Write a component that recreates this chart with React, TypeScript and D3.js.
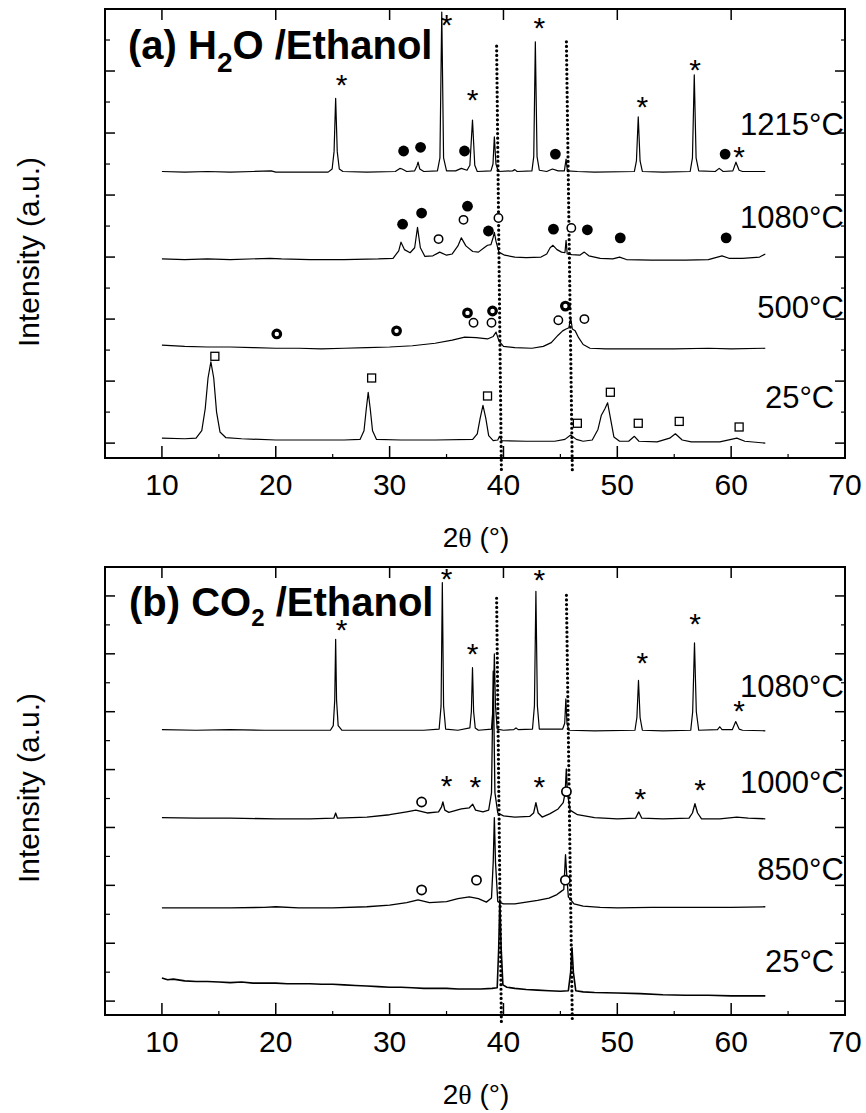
import React from 'react';
import * as d3 from 'd3';

type Pt = [number, number];

// 2θ ticks
const xMajor = [10, 20, 30, 40, 50, 60, 70];
const xMinor = [15, 25, 35, 45, 55, 65];
const yMajor = [0, 1, 2, 3, 4, 5, 6, 7];
const yMinor = [0.5, 1.5, 2.5, 3.5, 4.5, 5.5, 6.5];

// ---- (a) H2O / Ethanol ----
const a1215: Pt[] = [[10,4.38],[12,4.37],[14,4.38],[16,4.37],[18,4.38],[19.6,4.39],[20,4.37],[22,4.37],[24.6,4.37],[24.95,4.42],[25.12,4.7],[25.26,5.56],[25.4,4.7],[25.58,4.42],[25.9,4.38],[28,4.37],[30.5,4.38],[30.9,4.43],[31.1,4.42],[31.5,4.38],[32.2,4.39],[32.4,4.47],[32.5,4.53],[32.65,4.42],[33,4.38],[34.2,4.39],[34.42,4.6],[34.58,6.95],[34.74,4.6],[35.0,4.39],[35.8,4.39],[36.3,4.43],[36.8,4.4],[37.05,4.48],[37.28,5.21],[37.48,4.48],[37.7,4.38],[38.9,4.39],[39.08,4.5],[39.2,4.94],[39.34,4.5],[39.55,4.38],[40.8,4.39],[41.0,4.41],[41.2,4.38],[42.5,4.39],[42.66,4.62],[42.8,6.47],[42.95,4.62],[43.15,4.4],[43.8,4.38],[44.3,4.42],[44.8,4.39],[45.35,4.39],[45.5,4.58],[45.62,4.39],[46.5,4.38],[48,4.37],[51.5,4.38],[51.68,4.55],[51.84,5.26],[52.0,4.55],[52.2,4.38],[54,4.37],[56.4,4.38],[56.6,4.6],[56.76,5.94],[56.92,4.6],[57.15,4.39],[58.6,4.38],[58.95,4.43],[59.3,4.38],[60.15,4.39],[60.42,4.53],[60.7,4.4],[61,4.38],[63,4.38]];
const a1080: Pt[] = [[10,2.97],[12,2.96],[14,2.97],[16,2.96],[19.5,2.98],[20.5,2.97],[23,2.96],[26,2.96],[29,2.97],[30.3,2.98],[30.8,3.1],[31.0,3.24],[31.3,3.12],[31.8,3.07],[32.2,3.15],[32.45,3.48],[32.7,3.15],[33.1,3.01],[33.8,3.02],[34.4,3.08],[35.0,3.03],[35.5,3.05],[36.0,3.18],[36.3,3.31],[36.7,3.18],[37.3,3.09],[37.8,3.08],[38.3,3.15],[38.6,3.19],[38.9,3.2],[39.1,3.32],[39.2,3.4],[39.35,3.25],[39.6,3.08],[40.1,3.03],[41,3.0],[42,2.99],[43.3,3.0],[43.8,3.05],[44.1,3.15],[44.35,3.19],[44.7,3.12],[45.1,3.08],[45.4,3.07],[45.5,3.27],[45.6,3.05],[46,3.04],[46.7,3.03],[47.1,3.08],[47.5,3.02],[48.5,2.98],[49.6,2.97],[50.2,3.0],[50.8,2.96],[53,2.95],[56,2.95],[58,2.96],[59.2,3.02],[59.8,2.98],[61,2.98],[62.5,3.0],[63,3.05]];
const a500: Pt[] = [[10,1.58],[12,1.56],[14,1.55],[16,1.55],[18,1.54],[20,1.53],[22,1.53],[24,1.52],[26,1.53],[28,1.54],[30,1.55],[32,1.57],[34,1.61],[35.5,1.66],[36.6,1.71],[37.6,1.7],[38.6,1.68],[39.1,1.72],[39.35,1.79],[39.6,1.65],[40.0,1.56],[41,1.54],[42.5,1.53],[43.5,1.56],[44.2,1.62],[44.8,1.74],[45.2,1.81],[45.5,1.84],[45.75,1.86],[45.9,2.03],[46.05,1.84],[46.3,1.81],[46.6,1.7],[47.0,1.59],[47.6,1.53],[49,1.52],[52,1.52],[55,1.52],[58,1.53],[60,1.52],[63,1.53]];
const a25: Pt[] = [[10,0.08],[12,0.07],[13.0,0.08],[13.5,0.2],[13.8,0.55],[14.05,1.05],[14.3,1.31],[14.55,1.05],[14.8,0.5],[15.1,0.18],[15.6,0.09],[17,0.07],[20,0.05],[23,0.05],[26,0.05],[27.4,0.06],[27.75,0.2],[27.95,0.55],[28.12,0.82],[28.3,0.55],[28.5,0.2],[28.85,0.06],[31,0.05],[34,0.05],[37.3,0.06],[37.7,0.15],[37.95,0.4],[38.2,0.61],[38.45,0.4],[38.7,0.12],[39.1,0.04],[39.5,0.05],[39.65,0.11],[39.85,0.04],[42,0.03],[44.5,0.03],[45.4,0.06],[45.9,0.13],[46.4,0.06],[47,0.03],[47.8,0.05],[48.3,0.22],[48.6,0.45],[48.9,0.55],[49.15,0.65],[49.4,0.4],[49.7,0.1],[50.2,0.03],[51.0,0.03],[51.5,0.11],[51.9,0.03],[53.5,0.02],[54.6,0.08],[55.1,0.15],[55.7,0.05],[56.5,0.02],[59,0.02],[60,0.06],[60.5,0.08],[61.2,0.03],[63,0.0]];

const starsA: Pt[] = [[25.79,5.89],[35.0,6.85],[37.28,5.65],[43.16,6.81],[52.19,5.53],[56.84,6.13],[60.7,4.73]];
const filledA: Pt[] = [[31.23,4.71],[32.72,4.77],[36.58,4.71],[44.56,4.66],[59.47,4.66],[31.14,3.53],[32.81,3.71],[36.84,3.82],[38.68,3.42],[44.39,3.45],[47.37,3.44],[50.26,3.31],[59.56,3.31]];
const openA: Pt[] = [[34.3,3.29],[36.49,3.6],[39.56,3.63],[45.96,3.47],[37.37,1.94],[38.95,1.94],[44.82,1.98],[47.11,2.0]];
const ringA: Pt[] = [[20.09,1.76],[30.61,1.81],[36.84,2.1],[39.04,2.13],[45.44,2.21]];
const squareA: Pt[] = [[14.65,1.4],[28.42,1.05],[38.6,0.76],[46.49,0.32],[49.39,0.82],[51.84,0.32],[55.44,0.35],[60.7,0.26]];

// ---- (b) CO2 / Ethanol ----
const b1080: Pt[] = [[10,4.69],[13,4.68],[16,4.69],[19,4.68],[22,4.68],[24.8,4.68],[25.05,4.76],[25.18,5.2],[25.26,6.25],[25.34,5.2],[25.48,4.76],[25.8,4.68],[30,4.68],[33,4.68],[34.35,4.7],[34.52,5.1],[34.63,7.23],[34.74,5.1],[34.92,4.7],[36,4.68],[37.05,4.72],[37.18,5.0],[37.28,5.76],[37.38,5.0],[37.52,4.72],[37.8,4.68],[38.95,4.7],[39.1,5.1],[39.2,6.0],[39.3,5.1],[39.45,4.7],[40,4.68],[40.9,4.69],[41.1,4.72],[41.3,4.69],[42.55,4.7],[42.72,5.1],[42.85,7.08],[42.98,5.1],[43.15,4.7],[45.2,4.7],[45.38,4.8],[45.48,5.22],[45.58,4.8],[45.75,4.68],[48,4.67],[51.55,4.68],[51.72,4.9],[51.86,5.54],[52.0,4.9],[52.2,4.68],[54,4.67],[56.45,4.68],[56.62,5.0],[56.78,6.19],[56.94,5.0],[57.15,4.68],[58.8,4.69],[59.0,4.74],[59.2,4.69],[60.1,4.69],[60.4,4.83],[60.7,4.7],[61,4.68],[63,4.67]];
const b1000: Pt[] = [[10,3.17],[13,3.16],[16,3.16],[20,3.15],[23,3.15],[25.1,3.16],[25.26,3.25],[25.42,3.16],[28,3.18],[30,3.22],[31.5,3.27],[32.3,3.3],[33.3,3.25],[34.3,3.27],[34.55,3.35],[34.68,3.44],[34.85,3.3],[35.2,3.26],[36.3,3.32],[37.0,3.34],[37.3,3.4],[37.55,3.3],[38.2,3.27],[38.7,3.3],[38.95,3.6],[39.1,5.7],[39.25,3.6],[39.5,3.25],[40,3.2],[41,3.18],[42.3,3.19],[42.65,3.25],[42.85,3.43],[43.05,3.25],[43.4,3.18],[44.1,3.24],[44.8,3.32],[45.25,3.43],[45.42,3.6],[45.52,4.01],[45.62,3.6],[45.85,3.3],[46.5,3.22],[48,3.17],[50,3.15],[51.6,3.16],[51.88,3.27],[52.15,3.16],[54,3.15],[56.3,3.16],[56.6,3.25],[56.82,3.41],[57.05,3.25],[57.4,3.15],[59,3.15],[60.5,3.18],[61.5,3.16],[63,3.15]];
const b850: Pt[] = [[10,1.61],[13,1.61],[16,1.61],[19,1.62],[20,1.63],[22,1.61],[25,1.61],[28,1.63],[30,1.66],[31.5,1.7],[32.5,1.75],[33.5,1.7],[35,1.72],[36,1.77],[37,1.8],[37.8,1.77],[38.5,1.71],[38.95,1.78],[39.1,2.4],[39.2,3.17],[39.3,2.4],[39.5,1.72],[40,1.68],[41,1.68],[42,1.71],[43,1.74],[44,1.78],[44.7,1.84],[45.1,1.9],[45.3,1.93],[45.45,2.53],[45.55,2.2],[45.7,1.8],[46.2,1.68],[47,1.64],[48.5,1.62],[50,1.61],[53,1.62],[56,1.62],[60,1.62],[63,1.63]];
const b25: Pt[] = [[10,0.4],[10.5,0.37],[11,0.38],[12,0.35],[13,0.34],[14,0.34],[15,0.33],[16,0.32],[17,0.33],[18,0.31],[19,0.31],[20,0.31],[21,0.3],[22,0.3],[23,0.3],[24,0.29],[25,0.29],[26,0.28],[27,0.27],[28,0.26],[29,0.25],[30,0.24],[31,0.24],[32,0.23],[33,0.22],[34,0.22],[35,0.22],[36,0.21],[37,0.21],[38,0.21],[39,0.22],[39.45,0.23],[39.58,0.9],[39.68,1.75],[39.8,0.9],[39.95,0.28],[40.3,0.24],[41,0.22],[42,0.2],[43,0.19],[44,0.18],[45,0.17],[45.7,0.18],[45.9,0.5],[46.02,0.92],[46.14,0.5],[46.35,0.18],[47,0.16],[48,0.15],[50,0.14],[52,0.13],[54,0.11],[56,0.1],[58,0.1],[60,0.09],[63,0.09]];

const starsB: Pt[] = [[25.79,6.54],[35.0,7.42],[37.28,6.12],[43.16,7.39],[52.19,5.97],[56.84,6.64],[60.7,5.14],[35.0,3.84],[37.54,3.82],[43.16,3.82],[52.02,3.62],[57.28,3.77]];
const openB: Pt[] = [[32.81,3.44],[45.53,3.62],[32.81,1.92],[37.63,2.09],[45.44,2.09]];

// temperature labels [text, 2θ of right end, intensity of baseline]
const labelsA: [string, number, number][] = [['1215°C', 69.9, 4.97], ['1080°C', 69.9, 3.47], ['500°C', 69.9, 2.02], ['25°C', 69.05, 0.56]];
const labelsB: [string, number, number][] = [['1080°C', 69.9, 5.26], ['1000°C', 69.9, 3.6], ['850°C', 69.9, 2.09], ['25°C', 69.05, 0.5]];

// dotted reference lines: [2θ top, 2θ bottom, intensity top, intensity bottom]
const guidesA: [number, number, number, number][] = [[39.4, 39.82, 6.4, -0.47], [45.53, 46.05, 6.47, -0.45]];
const guidesB: [number, number, number, number][] = [[39.4, 39.82, 6.96, -0.42], [45.53, 46.05, 7.01, -0.38]];

const SANS = '"Liberation Sans", Arial, sans-serif';
const L = 105, R = 845;
const x = d3.scaleLinear().domain([5, 70]).range([L, R]);

interface PanelProps {
  top: number;
  bottom: number;
  yMax: number;
  traces: Pt[][];
  thick?: number[];
  stars: Pt[];
  filled?: Pt[];
  open: Pt[];
  rings?: Pt[];
  squares?: Pt[];
  labels: [string, number, number][];
  guides: [number, number, number, number][];
  title: React.ReactNode;
  yLabelCenter: number;
  openR?: number;
  openW?: number;
}

const Panel: React.FC<PanelProps> = (p) => {
  const y = d3.scaleLinear().domain([-0.24, p.yMax]).range([p.bottom, p.top]);
  const line = d3.line<Pt>().x(d => x(d[0])).y(d => y(d[1]));
  return (
    <g>
      {p.traces.map((t, i) => (
        <path key={i} d={line(t) || ''} fill="none" stroke="#000" strokeWidth={p.thick && p.thick[i] ? p.thick[i] : 1.2} strokeLinejoin="round" />
      ))}
      {p.guides.map((g, i) => (
        <line key={i} x1={x(g[0])} y1={y(g[2])} x2={x(g[1])} y2={y(g[3])} stroke="#000" strokeWidth={3.2} strokeDasharray="0 4.6" strokeLinecap="round" />
      ))}
      {(p.filled || []).map((d, i) => <circle key={i} cx={x(d[0])} cy={y(d[1])} r={5.4} fill="#000" />)}
      {p.open.map((d, i) => <circle key={i} cx={x(d[0])} cy={y(d[1])} r={p.openR || 4.2} fill="#fff" stroke="#000" strokeWidth={p.openW || 1.5} />)}
      {(p.rings || []).map((d, i) => <circle key={i} cx={x(d[0])} cy={y(d[1])} r={3.8} fill="#fff" stroke="#000" strokeWidth={3.2} />)}
      {(p.squares || []).map((d, i) => <rect key={i} x={x(d[0]) - 4} y={y(d[1]) - 4} width={8} height={8} fill="#fff" stroke="#000" strokeWidth={1.3} />)}
      {p.stars.map((d, i) => (
        <text key={i} x={x(d[0])} y={y(d[1]) + 17} textAnchor="middle" fontFamily={SANS} fontSize={30}>*</text>
      ))}
      {p.labels.map((l, i) => (
        <text key={i} x={x(l[1])} y={y(l[2])} textAnchor="end" fontFamily={SANS} fontSize={31}>{l[0]}</text>
      ))}
      {/* frame */}
      <rect x={L} y={p.top} width={R - L} height={p.bottom - p.top} fill="none" stroke="#000" strokeWidth={2} />
      {xMajor.map(t => (
        <g key={'xm' + t}>
          <line x1={x(t)} x2={x(t)} y1={p.bottom} y2={p.bottom - 12} stroke="#000" strokeWidth={1.5} />
          <line x1={x(t)} x2={x(t)} y1={p.top} y2={p.top + 11} stroke="#000" strokeWidth={1.5} />
          <text x={x(t)} y={p.bottom + 37} textAnchor="middle" fontFamily={SANS} fontSize={30}>{t}</text>
        </g>
      ))}
      {xMinor.map(t => (
        <line key={'xn' + t} x1={x(t)} x2={x(t)} y1={p.bottom} y2={p.bottom - 4} stroke="#000" strokeWidth={1.2} />
      ))}
      {yMajor.map(t => (
        <g key={'ym' + t}>
          <line x1={L} x2={L + 10} y1={y(t)} y2={y(t)} stroke="#000" strokeWidth={1.5} />
          <line x1={R} x2={R - 10} y1={y(t)} y2={y(t)} stroke="#000" strokeWidth={1.5} />
        </g>
      ))}
      {yMinor.map(t => (
        <g key={'yn' + t}>
          <line x1={L} x2={L + 5} y1={y(t)} y2={y(t)} stroke="#000" strokeWidth={1.2} />
          <line x1={R} x2={R - 4} y1={y(t)} y2={y(t)} stroke="#000" strokeWidth={1.2} />
        </g>
      ))}
      {p.title}
      <text transform={`translate(39,${p.yLabelCenter}) rotate(-90)`} textAnchor="middle" fontFamily={SANS} fontSize={30}>Intensity (a.u.)</text>
      <text x={476} y={p.bottom + 89} textAnchor="middle" fontFamily={SANS} fontSize={28}>
        2<tspan fontFamily='"Liberation Serif", serif'>θ</tspan> (°)
      </text>
    </g>
  );
};

export default function App() {
  return (
    <svg width={866} height={1113} viewBox="0 0 866 1113" style={{ position: 'absolute', left: 0, top: 0, background: '#fff' }}>
      <rect width={866} height={1113} fill="#fff" />
      <Panel
        top={9} bottom={458} yMax={7.0}
        traces={[a1215, a1080, a500, a25]}
        stars={starsA} filled={filledA} open={openA} rings={ringA} squares={squareA}
        labels={labelsA} guides={guidesA} yLabelCenter={252}
        title={
          <text x={128} y={59} fontFamily={SANS} fontWeight="bold" fontSize={40}>
            (a) H<tspan fontSize={28} dy={13}>2</tspan><tspan dy={-13}>O /Ethanol</tspan>
          </text>
        }
      />
      <Panel
        top={567} bottom={1015} yMax={7.5}
        traces={[b1080, b1000, b850, b25]} thick={[1.2, 1.3, 1.3, 1.6]}
        stars={starsB} open={openB} openR={4.6} openW={1.7}
        labels={labelsB} guides={guidesB} yLabelCenter={788}
        title={
          <text x={129} y={616} fontFamily={SANS} fontWeight="bold" fontSize={40}>
            (b) CO<tspan fontSize={24} dy={10}>2</tspan><tspan dy={-10}> /Ethanol</tspan>
          </text>
        }
      />
    </svg>
  );
}
